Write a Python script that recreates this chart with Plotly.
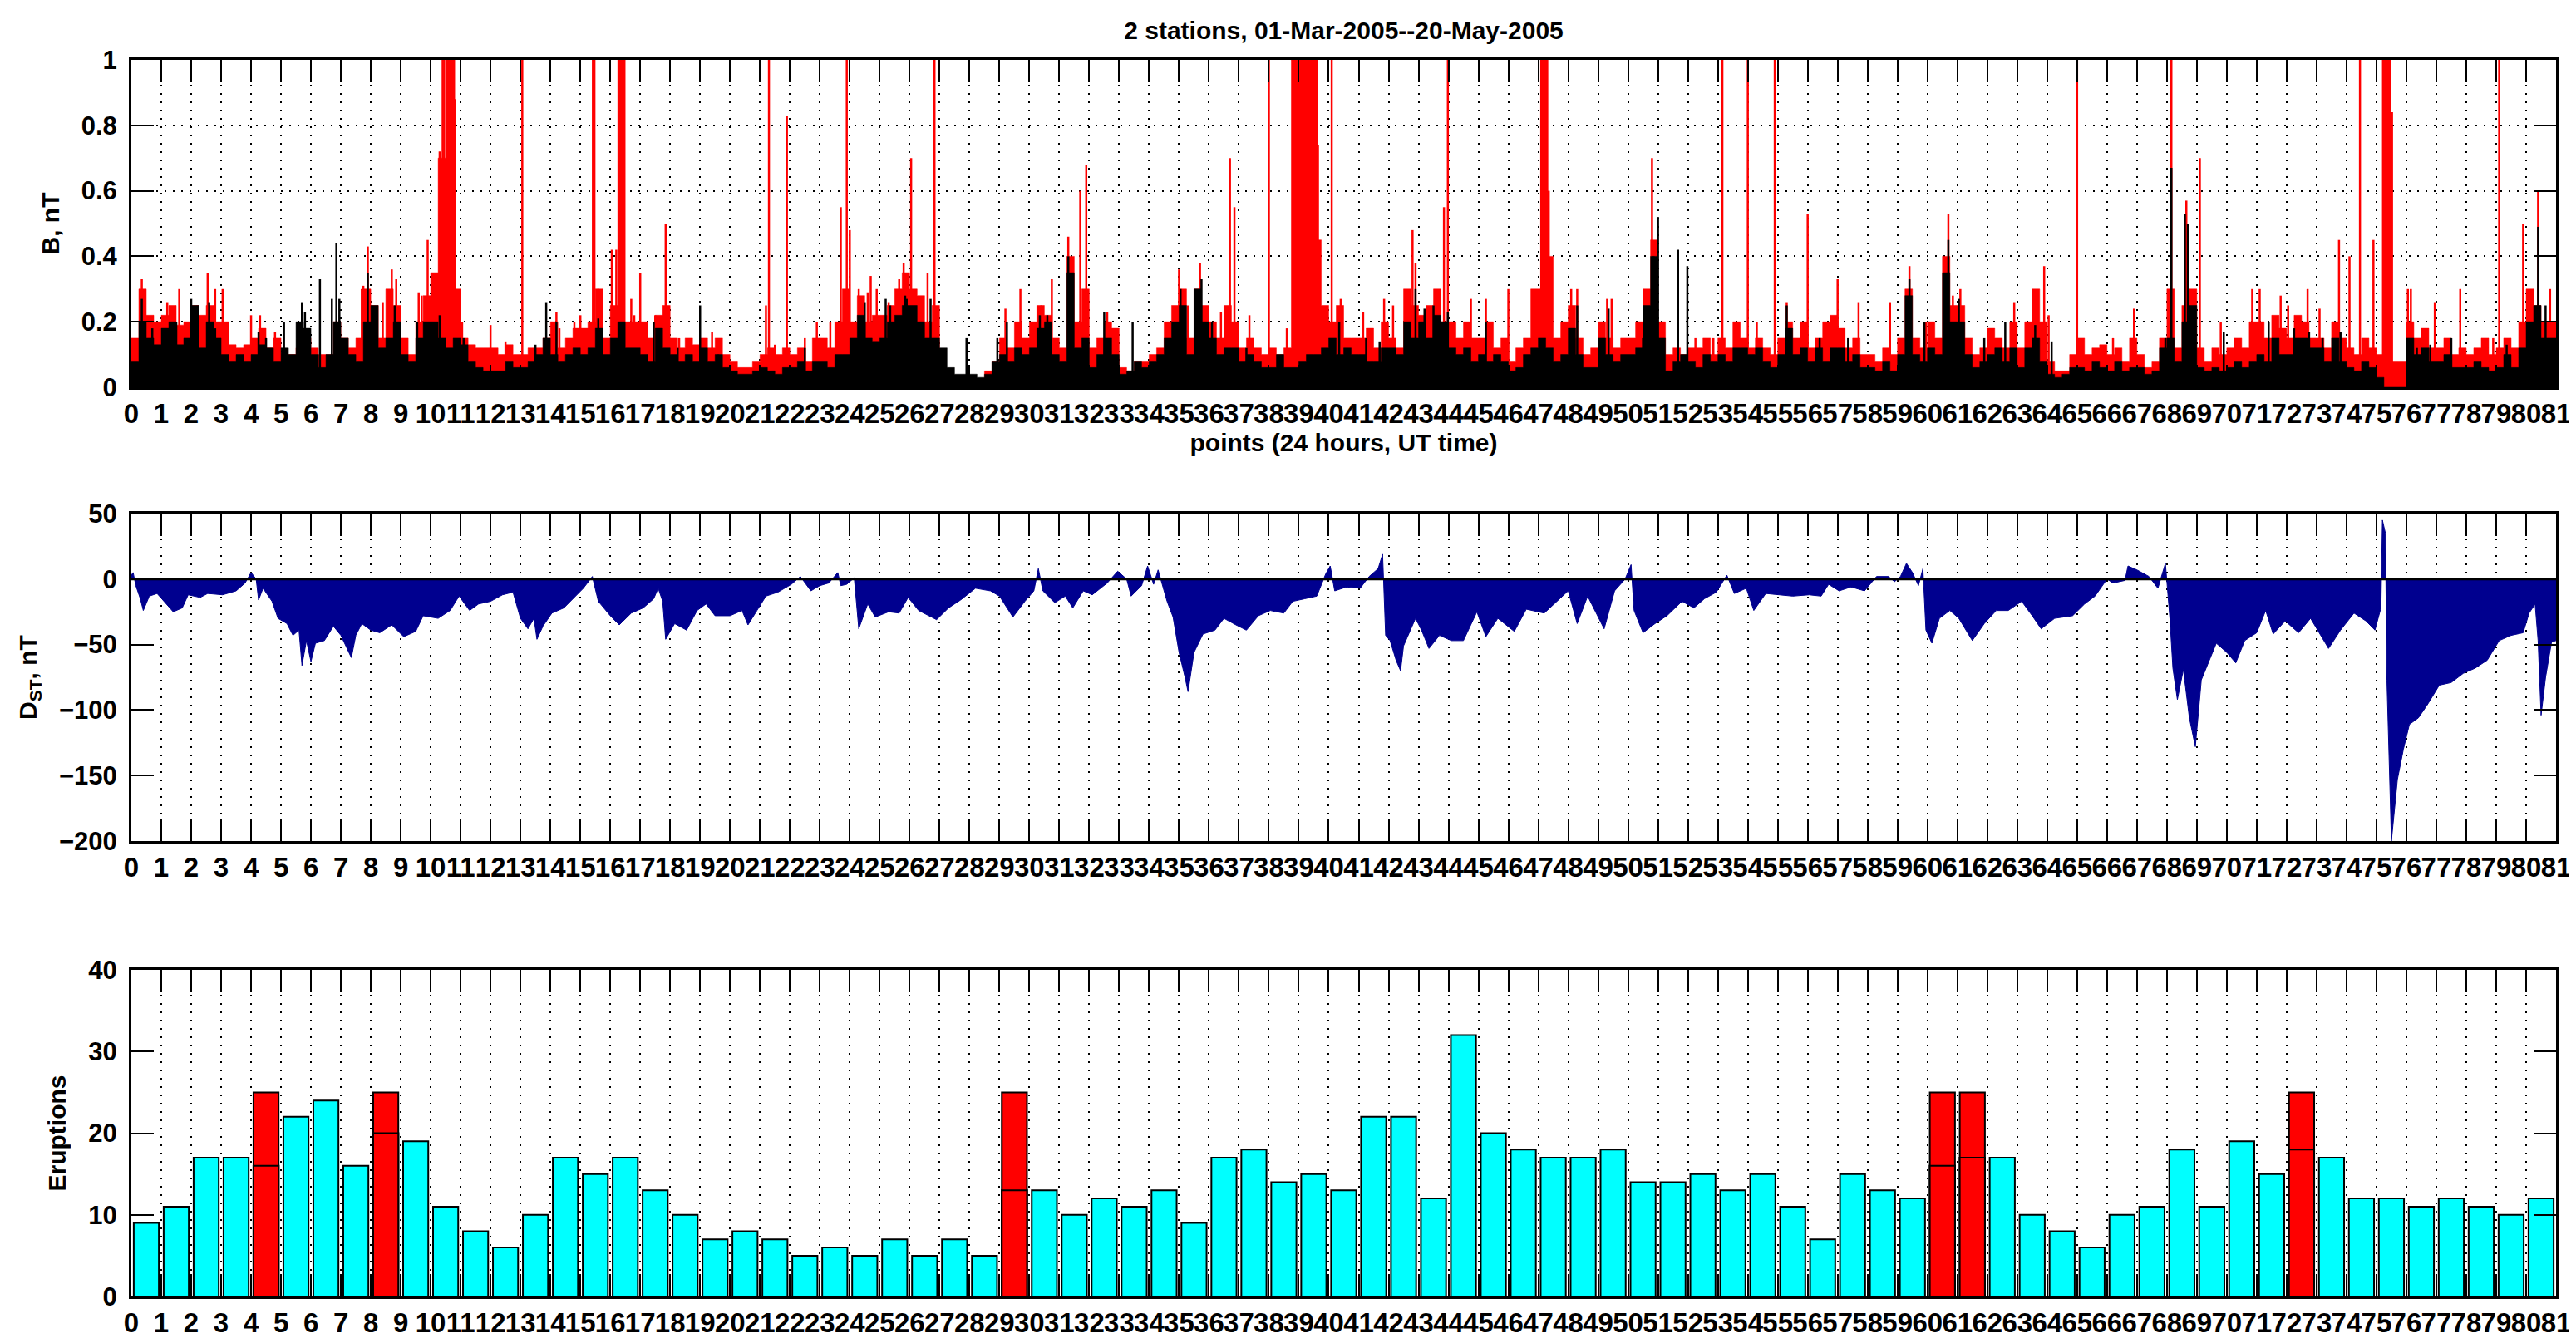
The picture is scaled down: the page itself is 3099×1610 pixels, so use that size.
import plotly.graph_objects as go

# ---------------- data ----------------
day_ticks = list(range(0, 82))

# B, nT : 6-hour levels per day (4 per day), red station and black station
b_red_q = [
    [0.15, 0.30, 0.22, 0.20], [0.22, 0.25, 0.19, 0.20], [0.25, 0.22, 0.25, 0.20], [0.20, 0.13, 0.12, 0.13],
    [0.15, 0.18, 0.12, 0.15], [0.10, 0.10, 0.12, 0.15], [0.12, 0.10, 0.10, 0.20], [0.15, 0.12, 0.15, 0.30],
    [0.25, 0.15, 0.30, 0.25], [0.15, 0.10, 0.20, 0.28], [0.35, 0.70, 1.00, 0.30], [0.15, 0.13, 0.12, 0.12],
    [0.12, 0.10, 0.13, 0.10], [0.10, 0.12, 0.12, 0.15], [0.20, 0.12, 0.15, 0.18], [0.18, 0.20, 0.30, 0.15],
    [0.25, 1.00, 0.20, 0.20], [0.20, 0.15, 0.22, 0.25], [0.15, 0.12, 0.15, 0.13], [0.15, 0.12, 0.15, 0.10],
    [0.08, 0.06, 0.06, 0.08], [0.10, 0.12, 0.10, 0.12], [0.10, 0.12, 0.08, 0.15], [0.15, 0.12, 0.20, 0.30],
    [0.20, 0.28, 0.20, 0.22], [0.22, 0.25, 0.30, 0.35], [0.30, 0.28, 0.20, 0.25], [0.05, 0.03, 0.02, 0.02],
    [0.02, 0.02, 0.05, 0.08], [0.15, 0.12, 0.20, 0.15], [0.20, 0.25, 0.22, 0.15], [0.12, 0.40, 0.20, 0.30],
    [0.12, 0.15, 0.20, 0.18], [0.06, 0.05, 0.08, 0.08], [0.10, 0.12, 0.20, 0.25], [0.30, 0.15, 0.30, 0.25],
    [0.20, 0.15, 0.25, 0.20], [0.12, 0.15, 0.12, 0.10], [0.12, 0.10, 0.12, 1.00], [1.00, 1.00, 0.45, 0.25],
    [0.20, 0.25, 0.15, 0.15], [0.15, 0.18, 0.12, 0.20], [0.15, 0.12, 0.30, 0.25], [0.22, 0.25, 0.30, 0.20],
    [0.20, 0.15, 0.20, 0.15], [0.15, 0.20, 0.12, 0.15], [0.08, 0.12, 0.15, 0.30], [0.30, 0.40, 0.15, 0.20],
    [0.25, 0.15, 0.10, 0.12], [0.20, 0.15, 0.12, 0.15], [0.15, 0.20, 0.30, 0.45], [0.20, 0.10, 0.12, 0.10],
    [0.12, 0.12, 0.15, 0.10], [0.15, 0.12, 0.20, 0.15], [0.12, 0.15, 0.12, 0.10], [0.15, 0.20, 0.15, 0.20],
    [0.12, 0.15, 0.20, 0.22], [0.18, 0.12, 0.15, 0.10], [0.10, 0.08, 0.12, 0.10], [0.15, 0.30, 0.15, 0.12],
    [0.20, 0.15, 0.40, 0.25], [0.25, 0.15, 0.10, 0.12], [0.18, 0.15, 0.12, 0.20], [0.12, 0.20, 0.30, 0.20],
    [0.08, 0.05, 0.05, 0.10], [0.15, 0.10, 0.12, 0.13], [0.10, 0.12, 0.08, 0.15], [0.10, 0.06, 0.08, 0.15],
    [0.30, 0.12, 0.25, 0.30], [0.12, 0.08, 0.12, 0.10], [0.12, 0.15, 0.12, 0.20], [0.20, 0.15, 0.22, 0.18],
    [0.15, 0.22, 0.20, 0.15], [0.15, 0.12, 0.20, 0.15], [0.12, 0.10, 0.15, 0.12], [0.10, 0.08, 0.08, 0.08],
    [0.20, 0.15, 0.18, 0.12], [0.12, 0.15, 0.10, 0.12], [0.10, 0.12, 0.15, 0.10], [0.12, 0.15, 0.12, 0.20],
    [0.30, 0.25, 0.20, 0.20],
]
b_black_q = [
    [0.08, 0.20, 0.15, 0.13], [0.18, 0.20, 0.13, 0.15], [0.25, 0.12, 0.20, 0.15], [0.10, 0.08, 0.10, 0.08],
    [0.10, 0.13, 0.12, 0.08], [0.12, 0.10, 0.20, 0.18], [0.10, 0.06, 0.10, 0.20], [0.15, 0.10, 0.08, 0.20],
    [0.25, 0.12, 0.15, 0.20], [0.10, 0.08, 0.15, 0.20], [0.20, 0.15, 0.12, 0.15], [0.13, 0.08, 0.06, 0.05],
    [0.05, 0.05, 0.08, 0.06], [0.06, 0.08, 0.10, 0.15], [0.10, 0.08, 0.10, 0.12], [0.10, 0.12, 0.18, 0.10],
    [0.15, 0.20, 0.12, 0.12], [0.10, 0.08, 0.18, 0.12], [0.10, 0.08, 0.10, 0.08], [0.12, 0.08, 0.10, 0.06],
    [0.05, 0.04, 0.04, 0.05], [0.06, 0.05, 0.04, 0.06], [0.06, 0.08, 0.05, 0.08], [0.08, 0.06, 0.10, 0.10],
    [0.15, 0.22, 0.15, 0.14], [0.15, 0.20, 0.22, 0.25], [0.25, 0.20, 0.15, 0.15], [0.12, 0.06, 0.04, 0.04],
    [0.04, 0.03, 0.04, 0.08], [0.10, 0.08, 0.12, 0.10], [0.12, 0.18, 0.20, 0.10], [0.08, 0.35, 0.12, 0.15],
    [0.06, 0.10, 0.15, 0.10], [0.04, 0.05, 0.08, 0.06], [0.08, 0.10, 0.15, 0.20], [0.25, 0.10, 0.30, 0.20],
    [0.15, 0.10, 0.12, 0.12], [0.08, 0.10, 0.08, 0.06], [0.06, 0.10, 0.06, 0.06], [0.08, 0.10, 0.10, 0.12],
    [0.15, 0.10, 0.12, 0.10], [0.10, 0.08, 0.08, 0.12], [0.12, 0.10, 0.20, 0.15], [0.20, 0.15, 0.22, 0.20],
    [0.12, 0.10, 0.12, 0.08], [0.10, 0.08, 0.10, 0.08], [0.05, 0.06, 0.10, 0.12], [0.15, 0.12, 0.08, 0.10],
    [0.18, 0.10, 0.06, 0.06], [0.15, 0.10, 0.08, 0.10], [0.10, 0.12, 0.25, 0.40], [0.15, 0.05, 0.08, 0.10],
    [0.08, 0.06, 0.10, 0.08], [0.10, 0.08, 0.12, 0.12], [0.10, 0.12, 0.08, 0.06], [0.10, 0.18, 0.10, 0.12],
    [0.08, 0.12, 0.08, 0.12], [0.12, 0.08, 0.10, 0.06], [0.06, 0.05, 0.08, 0.05], [0.10, 0.28, 0.10, 0.08],
    [0.12, 0.10, 0.35, 0.20], [0.20, 0.10, 0.06, 0.08], [0.10, 0.12, 0.08, 0.12], [0.06, 0.12, 0.15, 0.08],
    [0.04, 0.03, 0.04, 0.06], [0.06, 0.05, 0.08, 0.06], [0.05, 0.08, 0.05, 0.06], [0.06, 0.04, 0.05, 0.12],
    [0.15, 0.08, 0.20, 0.25], [0.06, 0.05, 0.06, 0.05], [0.06, 0.08, 0.06, 0.08], [0.10, 0.08, 0.15, 0.10],
    [0.10, 0.15, 0.15, 0.12], [0.12, 0.08, 0.15, 0.08], [0.06, 0.05, 0.08, 0.06], [0.03, 0.00, 0.00, 0.00],
    [0.15, 0.10, 0.12, 0.08], [0.08, 0.10, 0.06, 0.06], [0.06, 0.08, 0.06, 0.05], [0.06, 0.10, 0.06, 0.12],
    [0.20, 0.25, 0.15, 0.15],
]

# short-lived peaks (time in days, B in nT)
red_peak_t = [0.35, 2.55, 3.05, 7.9, 8.7, 9.9, 10.3, 10.4, 10.45, 10.78, 10.82, 13.06, 15.42, 15.47,
              15.6, 16.2, 17.0, 17.85, 21.2, 21.3, 21.9, 23.7, 23.9, 24.0, 25.95, 26.05, 26.83, 29.2,
              29.7, 31.3, 31.7, 31.9, 35.0, 35.7, 36.7, 36.85, 38.0, 39.52, 39.56, 39.6, 39.64, 39.7,
              40.1, 42.8, 42.9, 43.85, 43.98, 47.1, 47.14, 47.18, 47.22, 47.26, 47.3, 47.35, 48.1,
              49.3, 50.8, 53.15, 54.0, 54.9, 56.0, 59.4, 60.7, 61.1, 63.9, 65.0, 68.15, 68.65, 69.1,
              71.1, 71.8, 72.7, 73.75, 74.1, 74.45, 74.9, 75.22, 75.26, 75.3, 75.34, 75.38, 75.42,
              75.46, 75.52, 76.15, 77.8, 79.1, 79.9, 80.4]
red_peak_v = [0.33, 0.35, 0.30, 0.43, 0.36, 0.45, 0.72, 1.0, 1.0, 1.0, 0.88, 1.0, 1.0, 1.0,
              0.30, 0.42, 0.35, 0.50, 0.25, 1.0, 0.83, 0.55, 1.0, 0.48, 0.35, 0.70, 1.0, 0.24,
              0.30, 0.46, 0.60, 0.68, 0.36, 0.38, 0.70, 0.55, 1.0, 1.0, 1.0, 1.0, 0.74, 0.36,
              1.0, 0.48, 0.38, 0.55, 1.0, 1.0, 1.0, 1.0, 1.0, 1.0, 1.0, 0.60, 0.30,
              0.27, 0.70, 1.0, 1.0, 1.0, 0.53, 0.37, 0.53, 0.30, 0.37, 1.0, 1.0, 0.57, 0.70,
              0.30, 0.28, 0.30, 0.45, 0.40, 1.0, 0.45, 1.0, 1.0, 1.0, 1.0, 1.0, 1.0,
              1.0, 0.84, 0.30, 0.30, 1.0, 0.50, 0.60]
red_minor_t = [1.2, 1.3, 1.6, 2.2, 2.7, 2.8, 4.0, 4.3, 4.8, 7.7, 7.75, 8.4, 8.85, 9.6, 9.7, 11.05,
               12.0, 12.5, 14.2, 14.3, 14.8, 15.0, 16.05, 16.7, 16.8, 17.5, 18.3, 19.4, 21.5, 22.5,
               22.9, 23.35, 24.3, 24.6, 24.7, 24.9, 25.3, 25.65, 25.8, 26.6, 30.4, 30.75, 32.6, 34.8,
               35.3, 36.4, 37.35, 38.6, 40.4, 41.15, 41.85, 42.15, 44.75, 45.25, 46.0, 48.3, 49.45,
               52.25, 52.85, 53.6, 54.3, 55.3, 55.8, 57.0, 57.7, 58.75, 59.95, 60.85, 62.9, 63.6,
               64.05, 66.2, 66.9, 69.8, 70.85, 72.05, 73.1, 76.05, 76.95, 78.9, 80.8]
red_minor_v = [0.26, 0.22, 0.30, 0.25, 0.22, 0.30, 0.22, 0.22, 0.17, 0.30, 0.31, 0.26, 0.33, 0.29, 0.28, 0.20,
               0.19, 0.14, 0.23, 0.18, 0.20, 0.22, 0.42, 0.27, 0.22, 0.22, 0.15, 0.17, 0.13, 0.15,
               0.20, 0.20, 0.30, 0.29, 0.34, 0.30, 0.26, 0.33, 0.38, 0.35, 0.25, 0.33, 0.23, 0.24,
               0.25, 0.23, 0.22, 0.18, 0.27, 0.23, 0.27, 0.25, 0.27, 0.27, 0.30, 0.30, 0.27,
               0.15, 0.15, 0.15, 0.20, 0.26, 0.17, 0.33, 0.26, 0.26, 0.20, 0.28, 0.26, 0.25,
               0.22, 0.15, 0.24, 0.20, 0.30, 0.25, 0.24, 0.30, 0.26, 0.15, 0.30]
black_peak_t = [0.35, 2.0, 6.3, 6.85, 7.9, 13.86, 19.0, 24.5, 25.9, 31.3, 35.05, 35.75, 42.9, 43.5,
                50.85, 51.0, 51.67, 51.98, 59.4, 60.7, 61.05, 68.15, 68.6, 68.7, 80.4]
black_peak_v = [0.27, 0.27, 0.33, 0.44, 0.35, 0.26, 0.25, 0.26, 0.27, 0.40, 0.30, 0.33, 0.30, 0.25,
                0.40, 0.52, 0.42, 0.37, 0.33, 0.45, 0.27, 0.67, 0.53, 0.50, 0.49]
black_minor_t = [0.7, 1.5, 2.6, 2.8, 4.25, 4.5, 5.1, 5.7, 5.8, 6.7, 6.95, 8.1, 8.8, 9.55, 10.3, 11.1,
                 13.5, 14.2, 15.6, 16.45, 17.45, 18.25, 19.6, 22.5, 25.2, 25.35, 25.85, 26.7, 27.9,
                 28.93, 29.25, 30.35, 30.6, 32.5, 33.45, 36.1, 37.25, 40.35, 41.25, 41.7, 43.2, 43.98,
                 45.25, 48.3, 49.35, 50.5, 55.3, 56.4, 57.35, 59.9, 61.9, 62.6, 63.6, 64.15, 67.95,
                 69.9, 71.4, 72.25, 72.75, 73.2, 73.8, 76.35, 76.8, 77.5, 79.35, 80.65]
black_minor_v = [0.18, 0.20, 0.26, 0.18, 0.17, 0.15, 0.20, 0.26, 0.23, 0.27, 0.27, 0.24, 0.25, 0.20, 0.22, 0.15,
                 0.13, 0.20, 0.21, 0.20, 0.20, 0.12, 0.10, 0.12, 0.27, 0.25, 0.28, 0.27, 0.15,
                 0.15, 0.20, 0.22, 0.22, 0.23, 0.20, 0.20, 0.12, 0.20, 0.15, 0.14, 0.24, 0.23,
                 0.20, 0.25, 0.24, 0.15, 0.25, 0.15, 0.15, 0.20, 0.15, 0.20, 0.19, 0.14, 0.15,
                 0.17, 0.20, 0.18, 0.17, 0.15, 0.17, 0.12, 0.13, 0.15, 0.13, 0.25]

# Dst index, nT
dst_t = [0.0, 0.06, 0.15, 0.3, 0.4, 0.6, 0.86, 1.1, 1.4, 1.7, 1.9, 2.3, 2.55, 3.05, 3.5, 3.8, 4.0, 4.17,
         4.25, 4.4, 4.7, 4.9, 5.2, 5.4, 5.6, 5.7, 5.85, 6.0, 6.15, 6.45, 6.75, 7.0, 7.35, 7.5, 7.7, 8.0,
         8.3, 8.7, 9.1, 9.5, 9.75, 10.25, 10.65, 10.95, 11.3, 11.6, 12.0, 12.4, 12.75, 13.0, 13.25, 13.45,
         13.55, 13.75, 14.05, 14.45, 14.85, 15.1, 15.4, 15.6, 16.0, 16.3, 16.7, 17.1, 17.45, 17.6, 17.75,
         17.85, 18.15, 18.55, 18.9, 19.2, 19.5, 20.0, 20.4, 20.6, 20.9, 21.2, 21.6, 22.05, 22.35, 22.7,
         23.0, 23.3, 23.6, 23.7, 23.9, 24.15, 24.3, 24.6, 24.85, 25.3, 25.65, 25.95, 26.3, 26.9, 27.3,
         27.7, 28.2, 28.7, 29.0, 29.45, 29.85, 30.15, 30.3, 30.45, 30.85, 31.2, 31.45, 31.8, 32.1, 32.6,
         32.95, 33.25, 33.4, 33.75, 33.95, 34.15, 34.3, 34.45, 34.6, 34.8, 35.0, 35.2, 35.3, 35.5, 35.8,
         36.2, 36.5, 36.9, 37.25, 37.65, 38.05, 38.5, 38.8, 39.2, 39.6, 39.9, 40.05, 40.2, 40.6, 41.05,
         41.35, 41.65, 41.8, 41.9, 42.05, 42.25, 42.4, 42.5, 42.9, 43.1, 43.35, 43.7, 44.1, 44.5, 44.95,
         45.25, 45.65, 46.2, 46.6, 47.2, 48.0, 48.3, 48.65, 49.2, 49.55, 49.9, 50.1, 50.2, 50.5, 50.9,
         51.3, 51.8, 52.2, 52.55, 52.95, 53.3, 53.55, 53.95, 54.2, 54.6, 55.1, 55.5, 56.05, 56.45, 56.7,
         57.05, 57.45, 57.9, 58.3, 58.7, 58.9, 59.1, 59.3, 59.5, 59.7, 59.85, 59.95, 60.15, 60.4, 60.75,
         61.05, 61.5, 61.9, 62.3, 62.7, 63.15, 63.5, 63.8, 64.25, 64.85, 65.25, 65.6, 66.0, 66.2, 66.6,
         66.7, 67.0, 67.4, 67.7, 67.95, 68.1, 68.2, 68.35, 68.55, 68.75, 68.95, 69.15, 69.45, 69.65,
         70.0, 70.3, 70.6, 71.0, 71.3, 71.55, 71.95, 72.4, 72.8, 73.4, 73.8, 74.25, 74.65, 74.95, 75.15,
         75.2, 75.3, 75.35, 75.5, 75.7, 75.9, 76.1, 76.4, 76.7, 77.1, 77.5, 77.9, 78.3, 78.7, 79.1, 79.5,
         79.9, 80.1, 80.3, 80.4, 80.5, 80.65, 80.85, 81.0]
dst_v = [3, 5, -5, -15, -24, -13, -11, -17, -25, -22, -12, -14, -11, -12, -9, -3, 5, 0,
         -16, -7, -17, -30, -34, -43, -39, -66, -47, -63, -49, -47, -36, -43, -60, -43, -34, -39,
         -41, -35, -44, -40, -28, -30, -24, -13, -24, -19, -17, -12, -10, -30, -38, -30,
         -46, -36, -26, -22, -13, -7, 2, -17, -28, -35, -26, -22, -15, -7, -17,
         -46, -34, -39, -24, -19, -28, -28, -24, -35, -24, -13, -10, -4, 2, -9,
         -5, -3, 5, -5, -4, 1, -38, -19, -29, -25, -26, -14, -24, -31, -22,
         -16, -7, -9, -13, -29, -17, -9, 8, -9, -18, -13, -22, -9, -12, -3,
         6, 0, -13, -5, 10, -4, 7, -5, -17, -29, -56, -75, -86, -56, -42,
         -39, -30, -35, -39, -28, -24, -26, -17, -15, -13, 4, 10, -9, -6, -7,
         2, 8, 19, -43, -47, -62, -70, -51, -30, -39, -53, -43, -47, -47, -25,
         -44, -30, -40, -23, -26, -9, -34, -13, -38, -9, 0, 11, -24, -41, -34,
         -28, -17, -22, -15, -10, 3, -11, -7, -24, -11, -12, -13, -12, -13, -4,
         -9, -6, -9, 2, 2, -2, 2, 12, 5, -5, 8, -39, -49, -30, -24,
         -30, -47, -34, -24, -24, -17, -28, -38, -30, -28, -19, -13, 0, -3, -1,
         10, 7, 2, -7, 12, -30, -68, -92, -69, -106, -128, -77, -60, -49,
         -56, -64, -47, -41, -24, -42, -32, -41, -30, -53, -39, -26, -32, -39, -22,
         45, 35, -77, -200, -153, -130, -111, -106, -96, -81, -79, -72, -68, -62, -47, -43,
         -41, -26, -19, -47, -104, -75, -48, -47]

# Eruptions per day
eruptions = [9, 11, 17, 17, 16, 22, 24, 16, 20, 19,
             11, 8, 6, 10, 17, 15, 17, 13, 10, 7,
             8, 7, 5, 6, 5, 7, 5, 7, 5, 13,
             13, 10, 12, 11, 13, 9, 17, 18, 14, 15,
             13, 22, 22, 12, 32, 20, 18, 17, 17, 18,
             14, 14, 15, 13, 15, 11, 7, 15, 13, 12,
             16, 17, 17, 10, 8, 6, 10, 11, 18, 11,
             19, 15, 18, 17, 12, 12, 11, 12, 11, 10,
             12]
flag_days = [4, 8, 29, 60, 61, 72]
flag_level = 25

# ---------------- figure ----------------
FONT = "Liberation Sans, Arial, Helvetica, sans-serif"
n_days = len(b_red_q)

step_x = [d + q / 4 for d in range(n_days) for q in range(4)] + [n_days]
red_y = [v for row in b_red_q for v in row]
red_y = red_y + [red_y[-1]]
blk_y = [v for row in b_black_q for v in row]
blk_y = blk_y + [blk_y[-1]]


def needles(ts, vs):
    xs, ys = [], []
    for t, v in zip(ts, vs):
        xs += [t, t, None]
        ys += [0, v, None]
    return xs, ys


fig = go.Figure()

fig.add_trace(go.Scatter(x=step_x, y=red_y, mode="lines", line=dict(shape="hv", width=0.5, color="#ff0000"),
                         fill="tozeroy", fillcolor="#ff0000", xaxis="x", yaxis="y"))
rx, ry = needles(red_peak_t + red_minor_t, red_peak_v + red_minor_v)
fig.add_trace(go.Scatter(x=rx, y=ry, mode="lines", line=dict(width=2.5, color="#ff0000"), xaxis="x", yaxis="y"))
fig.add_trace(go.Scatter(x=step_x, y=blk_y, mode="lines", line=dict(shape="hv", width=0.5, color="#000000"),
                         fill="tozeroy", fillcolor="#000000", xaxis="x", yaxis="y"))
bx, by = needles(black_peak_t + black_minor_t, black_peak_v + black_minor_v)
fig.add_trace(go.Scatter(x=bx, y=by, mode="lines", line=dict(width=2.5, color="#000000"), xaxis="x", yaxis="y"))

# Dst
fig.add_trace(go.Scatter(x=dst_t, y=dst_v, mode="lines", line=dict(width=1, color="#00008f"),
                         fill="tozeroy", fillcolor="#00008f", xaxis="x2", yaxis="y2"))
fig.add_trace(go.Scatter(x=[0, 81], y=[0, 0], mode="lines", line=dict(width=3, color="black"),
                         xaxis="x2", yaxis="y2"))

# Eruptions
bar_x = [d + 0.5 for d in range(len(eruptions))]
fig.add_trace(go.Bar(x=bar_x, y=eruptions, width=0.84, marker=dict(color="#00ffff", line=dict(color="black", width=2)),
                     xaxis="x3", yaxis="y3"))
fig.add_trace(go.Bar(x=[d + 0.5 for d in flag_days], y=[flag_level] * len(flag_days), width=0.84,
                     marker=dict(color="#ff0000", line=dict(color="black", width=2)), xaxis="x3", yaxis="y3"))
fig.add_trace(go.Bar(x=[d + 0.5 for d in flag_days], y=[eruptions[d] for d in flag_days], width=0.84,
                     marker=dict(color="#ff0000", line=dict(color="black", width=2)), xaxis="x3", yaxis="y3"))

xtickfont = dict(family=FONT, size=33, color="black", weight="bold")
ytickfont = dict(family=FONT, size=31, color="black", weight="bold")
titlefont = dict(family=FONT, size=30, color="black", weight="bold")

common = dict(showline=True, linecolor="black", linewidth=3, mirror="ticks", ticks="inside", ticklen=27,
              tickwidth=2, tickcolor="black", zeroline=False)
xcommon = dict(common, range=[0, 81], tickmode="array", tickvals=day_ticks, tickfont=xtickfont,
               ticktext=[str(d) for d in day_ticks], tickangle=0, showgrid=True, gridcolor="black",
               griddash="2px,8px", gridwidth=2)
ycommon = dict(common, tickfont=ytickfont, ticklabelstandoff=8)

H = 1610.0
top_dom = [(1552 - 458) / 1488, 1.0]
mid_dom = [(1552 - 1004) / 1488, (1552 - 610) / 1488]
bot_dom = [0.0, (1552 - 1159) / 1488]

fig.update_layout(
    width=3099, height=1610,
    margin=dict(l=150, r=32, t=64, b=58, autoexpand=False),
    paper_bgcolor="white", plot_bgcolor="white",
    showlegend=False, barmode="overlay",
    title=dict(text="2 stations, 01-Mar-2005--20-May-2005", font=dict(family=FONT, size=30, color="black", weight="bold"),
               x=0.5, xref="paper", xanchor="center", y=1 - 28 / H, yref="container", yanchor="middle"),
    xaxis=dict(xcommon, domain=[0, 1], anchor="y",
               title=dict(text="points (24 hours, UT time)", font=titlefont, standoff=8)),
    yaxis=dict(ycommon, domain=top_dom, anchor="x", range=[0, 1], tickmode="array",
               tickvals=[0, 0.2, 0.4, 0.6, 0.8, 1], ticktext=["0", "0.2", "0.4", "0.6", "0.8", "1"],
               showgrid=True, gridcolor="black", griddash="2px,8px", gridwidth=2,
               title=dict(text="B, nT", font=titlefont, standoff=18)),
    xaxis2=dict(xcommon, domain=[0, 1], anchor="y2"),
    yaxis2=dict(ycommon, domain=mid_dom, anchor="x2", range=[-200, 50], tickmode="array",
                tickvals=[-200, -150, -100, -50, 0, 50], showgrid=False,
                title=dict(text="D<sub>ST</sub>, nT", font=titlefont, standoff=18)),
    xaxis3=dict(xcommon, domain=[0, 1], anchor="y3"),
    yaxis3=dict(ycommon, domain=bot_dom, anchor="x3", range=[0, 40], tickmode="array",
                tickvals=[0, 10, 20, 30, 40], showgrid=False,
                title=dict(text="Eruptions", font=titlefont, standoff=18)),
)

fig.write_html("out.html")
